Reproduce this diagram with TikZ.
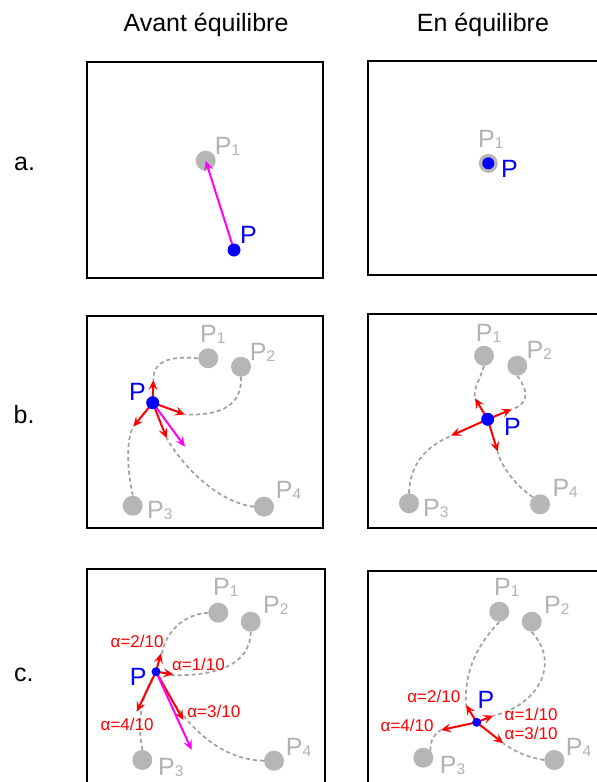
\documentclass[tikz,border=0pt]{standalone}
\usepackage{fontspec}
\setmainfont{Liberation Sans}
\usetikzlibrary{arrows.meta}
\definecolor{gpt}{RGB}{182,182,182}
\definecolor{gtxt}{RGB}{178,178,178}
\definecolor{gdash}{RGB}{160,160,160}
\definecolor{pblue}{RGB}{0,0,255}
\definecolor{pred}{RGB}{255,0,0}
\definecolor{pmag}{RGB}{255,0,255}
\newcommand\psb[1]{{\fontsize{15.5}{15}\selectfont\raisebox{-1pt}{#1}}}
\tikzset{
  ttl/.style={font=\fontsize{25}{30}\selectfont, inner sep=0},
  panel/.style={draw=black, line width=2pt},
  gdot/.style={circle, fill=gpt, inner sep=0, minimum size=20pt},
  bdot/.style={circle, fill=pblue, inner sep=0, minimum size=13pt},
  sdot/.style={circle, fill=pblue, inner sep=0, minimum size=9pt},
  glbl/.style={font=\fontsize{25}{28}\selectfont, text=gtxt, anchor=base west, inner sep=0},
  blbl/.style={font=\fontsize{25}{28}\selectfont, text=pblue, anchor=base west, inner sep=0},
  albl/.style={font=\fontsize{17}{20}\selectfont, text=pred, anchor=base west, inner sep=0},
  dcurve/.style={draw=gdash, line width=1.7pt, dash pattern=on 4pt off 3pt},
  rarr/.style={draw=pred, line width=2pt, -{Stealth[length=10pt,width=9pt,inset=4pt]}},
  marr/.style={draw=pmag, line width=2pt, -{Stealth[length=10pt,width=9pt,inset=4pt]}},
}
\begin{document}
\begin{tikzpicture}[x=1pt,y=-1pt]
\useasboundingbox (0,0) rectangle (597,782);
\clip (0,0) rectangle (597,782);
% titles and row labels
\node[ttl, anchor=base] (t1) at (206,31) {Avant équilibre};
\node[ttl, anchor=base] (t2) at (483,31.5) {En équilibre};
\node[ttl, anchor=base west] (ra) at (14,170) {a.};
\node[ttl, anchor=base west] (rb) at (13.5,423) {b.};
\node[ttl, anchor=base west] (rc) at (14,681) {c.};
% panels
\draw[panel] (87,62) rectangle (323,278);
\draw[panel] (368,60.5) rectangle (620,275);
\draw[panel] (87,316) rectangle (323,528);
\draw[panel] (368,314) rectangle (620,528);
\draw[panel] (87,569.3) rectangle (324.7,800);
\draw[panel] (367.5,571.3) rectangle (620,800);

% ---------- a left
\node[gdot] (aP1) at (205.7,160.7) {};
\coordinate (aP) at (234,250);
\draw[marr] (aP) -- (aP1.center);
\node[bdot] (aPd) at (aP) {};
\node[glbl] (aL1) at (214.7,154) {P\psb{1}};
\node[blbl] (aLP) at (240,243) {P};

% ---------- a right
\node[gdot, minimum size=19pt] (eP1) at (488.3,163.3) {};
\node[bdot, minimum size=12pt] (ePd) at (eP1.center) {};
\node[glbl] (eL1) at (478,147) {P\psb{1}};
\node[blbl] (eLP) at (501,177) {P};

% ---------- b left
\node[gdot] (bP1) at (208.3,358.3) {};
\node[gdot] (bP2) at (241,366.7) {};
\node[gdot] (bP3) at (132.7,505.7) {};
\node[gdot] (bP4) at (264,506.7) {};
\coordinate (bP) at (152.7,402.7);
\coordinate (bT1) at (153.3,380);
\coordinate (bT2) at (185,414.5);
\coordinate (bT3) at (133.3,426.7);
\coordinate (bT4) at (166.7,438.3);
\coordinate (bTm) at (185,446.7);
\draw[dcurve] (bP1.west) .. controls (172,356) and (153,360) .. (bT1);
\draw[dcurve] (bP2.south) .. controls (242,402) and (226,416) .. (bT2);
\draw[dcurve] (bP3.north) .. controls (127,468) and (126,440) .. (bT3);
\draw[dcurve] (bP4.west) .. controls (218,502) and (184,468) .. (bT4);
\draw[rarr] (bP) -- (bT1);
\draw[rarr] (bP) -- (bT2);
\draw[rarr] (bP) -- (bT3);
\draw[rarr] (bP) -- (bT4);
\draw[marr] (bP) -- (bTm);
\node[bdot] (bPd) at (bP) {};
\node[glbl] (bL1) at (200,342) {P\psb{1}};
\node[glbl] (bL2) at (249.7,360) {P\psb{2}};
\node[glbl] (bL3) at (147,518) {P\psb{3}};
\node[glbl] (bL4) at (275.7,498) {P\psb{4}};
\node[blbl] (bLP) at (129,400) {P};

% ---------- b right
\node[gdot] (fP1) at (484,355.7) {};
\node[gdot] (fP2) at (517.3,365.7) {};
\node[gdot] (fP3) at (409,503.3) {};
\node[gdot] (fP4) at (540,504.3) {};
\coordinate (fP) at (487.7,419.3);
\coordinate (fT1) at (475,398.3);
\coordinate (fT2) at (511.7,409.3);
\coordinate (fT3) at (451,435.7);
\coordinate (fT4) at (497.7,451.7);
\draw[dcurve] (fP1.south) .. controls (480,380) and (473,388) .. (fT1);
\draw[dcurve] (fP2.south) .. controls (531,394) and (526,405) .. (fT2);
\draw[dcurve] (fP3.north) .. controls (410,462) and (428,446) .. (fT3);
\draw[dcurve] (fP4.north west) .. controls (516,486) and (501,466) .. (fT4);
\draw[rarr] (fP) -- (fT1);
\draw[rarr] (fP) -- (fT2);
\draw[rarr] (fP) -- (fT3);
\draw[rarr] (fP) -- (fT4);
\node[bdot] (fPd) at (fP) {};
\node[glbl] (fL1) at (475.7,341) {P\psb{1}};
\node[glbl] (fL2) at (526.3,358.3) {P\psb{2}};
\node[glbl] (fL3) at (423,516.7) {P\psb{3}};
\node[glbl] (fL4) at (552.3,496.7) {P\psb{4}};
\node[blbl] (fLP) at (504,435) {P};

% ---------- c left
\node[gdot] (cP1) at (218.3,612.7) {};
\node[gdot] (cP2) at (250.7,621.7) {};
\node[gdot] (cP3) at (142.3,760) {};
\node[gdot] (cP4) at (274,760.7) {};
\coordinate (cP) at (156,671.7);
\coordinate (cT1) at (173.3,674.3);
\coordinate (cT2) at (161,653.3);
\coordinate (cT3) at (183.3,720);
\coordinate (cT4) at (136.7,711.7);
\coordinate (cTm) at (191.7,750);
\draw[dcurve] (cP1.west) .. controls (184,614) and (165,632) .. (161.7,655);
\draw[dcurve] (cP2.south) .. controls (250,666) and (214,677) .. (166.7,675);
\draw[dcurve] (cP3.north) .. controls (137,722) and (141,695) .. (cP);
\draw[dcurve] (cP4.west) .. controls (218,760) and (180,722) .. (cP);
\draw[rarr] (cP) -- (cT1);
\draw[rarr] (cP) -- (cT2);
\draw[rarr] (cP) -- (cT3);
\draw[rarr] (cP) -- (cT4);
\draw[marr] (cP) -- (cTm);
\node[sdot] (cPd) at (cP) {};
\node[glbl] (cL1) at (213,595.7) {P\psb{1}};
\node[glbl] (cL2) at (263,613.3) {P\psb{2}};
\node[glbl] (cL3) at (158,775) {P\psb{3}};
\node[glbl] (cL4) at (285.7,755) {P\psb{4}};
\node[blbl] (cLP) at (129.7,685) {P};
\node[albl] (cA2) at (110.5,647.7) {α=2/10};
\node[albl] (cA1) at (171.8,670) {α=1/10};
\node[albl] (cA3) at (187.2,717.7) {α=3/10};
\node[albl] (cA4) at (100.5,730) {α=4/10};

% ---------- c right
\node[gdot] (gP1) at (499.3,611.7) {};
\node[gdot] (gP2) at (531.7,621.7) {};
\node[gdot] (gP3) at (423.3,757.7) {};
\node[gdot] (gP4) at (554.3,760) {};
\coordinate (gP) at (476.7,722.3);
\coordinate (gT1) at (493.3,715.7);
\coordinate (gT2) at (466,705);
\coordinate (gT3) at (503.3,743.3);
\coordinate (gT4) at (441,730);
\draw[dcurve] (gP1.south) .. controls (480,642) and (464,668) .. (gT2);
\draw[dcurve] (gP2.south) .. controls (562,665) and (536,706) .. (gT1);
\draw[dcurve] (gP3.north east) .. controls (430,740) and (435,733) .. (gT4);
\draw[dcurve] (gP4.west) .. controls (530,758) and (515,752) .. (gT3);
\draw[rarr] (gP) -- (gT1);
\draw[rarr] (gP) -- (gT2);
\draw[rarr] (gP) -- (gT3);
\draw[rarr] (gP) -- (gT4);
\node[sdot] (gPd) at (gP) {};
\node[glbl] (gL1) at (494,595) {P\psb{1}};
\node[glbl] (gL2) at (544,613.3) {P\psb{2}};
\node[glbl] (gL3) at (439.7,773.3) {P\psb{3}};
\node[glbl] (gL4) at (565.7,755) {P\psb{4}};
\node[blbl] (gLP) at (477.3,708.3) {P};
\node[albl] (gA2) at (407.2,702.3) {α=2/10};
\node[albl] (gA1) at (504.5,720) {α=1/10};
\node[albl] (gA3) at (504.5,739) {α=3/10};
\node[albl] (gA4) at (380.5,731.7) {α=4/10};
\end{tikzpicture}
\end{document}
